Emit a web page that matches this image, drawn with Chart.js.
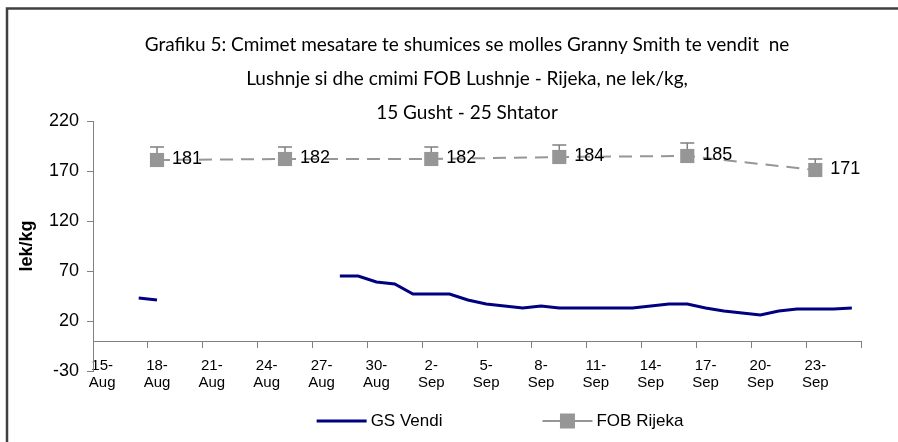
<!DOCTYPE html>
<html>
<head>
<meta charset="utf-8">
<script src="https://cdn.jsdelivr.net/npm/chart.js@4.4.0/dist/chart.umd.min.js"></script>
<style>
  html, body { margin: 0; padding: 0; background: #fff; }
  #wrap { width: 898px; height: 442px; position: relative; }
</style>
</head>
<body>
<div id="wrap"><canvas id="grafiku5"></canvas></div>
<script>
// ————————————————————————————
// DATA
// ————————————————————————————
const titleLines = [
  'Grafiku 5: Cmimet mesatare te shumices se molles Granny Smith te vendit  ne',
  'Lushnje si dhe cmimi FOB Lushnje - Rijeka, ne lek/kg,',
  '15 Gusht - 25 Shtator'
]

const dates = [
  '15-Aug','16-Aug','17-Aug','18-Aug','19-Aug','20-Aug','21-Aug','22-Aug','23-Aug',
  '24-Aug','25-Aug','26-Aug','27-Aug','28-Aug','29-Aug','30-Aug','31-Aug',
  '1-Sep','2-Sep','3-Sep','4-Sep','5-Sep','6-Sep','7-Sep','8-Sep','9-Sep','10-Sep',
  '11-Sep','12-Sep','13-Sep','14-Sep','15-Sep','16-Sep','17-Sep','18-Sep','19-Sep',
  '20-Sep','21-Sep','22-Sep','23-Sep','24-Sep','25-Sep'
]

// GS Vendi (lek/kg), one value per day, null = no quote
const gsVendi = [
  null, null, 43, 41, null, null, null, null, null, null, null, null, null,
  65, 65, 59, 57,
  47, 47, 47, 41, 37, 35, 33, 35, 33, 33, 33, 33, 33, 35, 37, 37,
  33, 30, 28, 26, 30, 32, 32, 32, 33
]

// FOB Rijeka (lek/kg), weekly quotes
const fobRijeka = [
  null, null, null, 181, null, null, null, null, null, null, 182, null, null,
  null, null, null, null,
  null, 182, null, null, null, null, null, null, 184, null, null, null, null, null, null, 185,
  null, null, null, null, null, null, 171, null, null
]

// plus-only error bars on FOB Rijeka
const fobErrPlus = [
  null, null, null, 13, null, null, null, null, null, null, 12, null, null,
  null, null, null, null,
  null, 12, null, null, null, null, null, null, 12, null, null, null, null, null, null, 13,
  null, null, null, null, null, null, 11, null, null
]

const yTicks = [-30, 20, 70, 120, 170, 220]

const FONT = '"Liberation Sans", Arial, sans-serif'
const NAVY = '#000080'
const GREY = '#969696'
const AXIS = '#808080'

// ————————————————————————————
// EXTRA DRAWING: frame, title, error bars, labels, legend
// ————————————————————————————
const decor = {
  id: 'decor',
  beforeDraw(chart) {
    const { ctx, width, height } = chart
    ctx.save()
    ctx.fillStyle = '#fff'
    ctx.fillRect(0, 0, width, height)
    ctx.strokeStyle = '#404040'
    ctx.lineWidth = 2.5
    ctx.beginPath()
    ctx.moveTo(7, height + 5)
    ctx.lineTo(7, 8.5)
    ctx.lineTo(width + 5, 8.5)
    ctx.stroke()
    ctx.restore()
  },
  beforeDatasetsDraw(chart) {
    const { ctx } = chart
    const y = chart.scales.y
    const meta = chart.getDatasetMeta(1)
    ctx.save()
    ctx.strokeStyle = AXIS
    ctx.lineWidth = 1.5
    fobRijeka.forEach((v, i) => {
      if (v == null) return
      const pt = meta.data[i]
      const top = y.getPixelForValue(v + fobErrPlus[i])
      ctx.beginPath()
      ctx.moveTo(pt.x, pt.y)
      ctx.lineTo(pt.x, top)
      ctx.moveTo(pt.x - 7, top)
      ctx.lineTo(pt.x + 7, top)
      ctx.stroke()
    })
    ctx.restore()
  },
  afterDatasetsDraw(chart) {
    const { ctx } = chart
    const meta = chart.getDatasetMeta(1)
    ctx.save()
    ctx.fillStyle = '#000'
    ctx.font = '18px ' + FONT
    ctx.textAlign = 'left'
    ctx.textBaseline = 'middle'
    fobRijeka.forEach((v, i) => {
      if (v == null) return
      const pt = meta.data[i]
      ctx.fillText(String(v), pt.x + 15, pt.y - 1)
    })
    ctx.restore()
  },
  afterDraw(chart) {
    const { ctx } = chart
    ctx.save()
    // title
    ctx.fillStyle = '#000'
    ctx.font = '19px Lato, "Open Sans", sans-serif'
    ctx.textAlign = 'center'
    ctx.textBaseline = 'middle'
    titleLines.forEach((t, i) => ctx.fillText(t, 467, 45 + i * 34))

    // legend
    ctx.font = '17px ' + FONT
    ctx.textAlign = 'left'
    const ds = chart.data.datasets
    const sample = 50, gapText = 4, gapItem = 100
    const widths = ds.map(d => ctx.measureText(d.label).width)
    const total = ds.length * (sample + gapText) + widths.reduce((a, b) => a + b, 0) + gapItem * (ds.length - 1)
    let x = 500 - total / 2
    const ly = 421
    ds.forEach((d, i) => {
      ctx.strokeStyle = d.borderColor
      ctx.lineWidth = d.borderWidth
      ctx.setLineDash([])
      ctx.beginPath()
      ctx.moveTo(x, ly)
      ctx.lineTo(x + sample, ly)
      ctx.stroke()
      if (d.pointStyle === 'rect') {
        ctx.fillStyle = d.pointBackgroundColor
        ctx.fillRect(x + sample / 2 - 7.5, ly - 7.5, 15, 15)
      }
      ctx.fillStyle = '#000'
      ctx.fillText(d.label, x + sample + gapText, ly)
      x += sample + gapText + widths[i] + gapItem
    })
    ctx.restore()
  }
}

// ————————————————————————————
// CHART
// ————————————————————————————
const tickEvery3 = c => (c.type !== 'tick' || c.index % 3 === 0) ? AXIS : 'rgba(0,0,0,0)'

new Chart(document.getElementById('grafiku5'), {
  type: 'line',
  data: {
    labels: dates,
    datasets: [
      {
        label: 'GS Vendi',
        data: gsVendi,
        borderColor: NAVY,
        borderWidth: 3,
        pointRadius: 0,
        spanGaps: false,
        tension: 0
      },
      {
        label: 'FOB Rijeka',
        data: fobRijeka,
        borderColor: GREY,
        borderWidth: 2,
        borderDash: [13, 8],
        pointStyle: 'rect',
        pointRadius: 10,
        pointBackgroundColor: GREY,
        pointBorderColor: GREY,
        pointBorderWidth: 0,
        spanGaps: true,
        tension: 0
      }
    ]
  },
  options: {
    responsive: true,
    maintainAspectRatio: false,
    animation: false,
    layout: { padding: { left: 0, right: 37, top: 121, bottom: 71 } },
    plugins: {
      legend: { display: false },
      title: { display: false },
      tooltip: { enabled: false }
    },
    scales: {
      x: {
        type: 'category',
        position: { y: 0 },
        offset: true,
        grid: { offset: true, drawOnChartArea: false, tickLength: 6, color: tickEvery3, tickColor: tickEvery3 },
        border: { color: AXIS, width: 1 },
        ticks: {
          autoSkip: false,
          maxRotation: 0,
          minRotation: 0,
          padding: 10,
          color: '#000',
          font: { family: FONT, size: 15, lineHeight: 1.15 },
          callback: (v, i) => {
            if (i % 3) return ''
            const [d, m] = dates[i].split('-')
            return [d + '-', m]
          }
        }
      },
      y: {
        min: -30,
        max: 220,
        afterBuildTicks: s => { s.ticks = yTicks.map(v => ({ value: v })) },
        afterFit: s => { s.width = 93 },
        grid: { drawOnChartArea: false, tickLength: 6, color: AXIS },
        border: { color: AXIS, width: 1 },
        ticks: { padding: 8, color: '#000', font: { family: FONT, size: 18 } },
        title: {
          display: true,
          text: 'lek/kg',
          color: '#000',
          font: { family: FONT, size: 18, weight: 'bold' },
          padding: { top: 16, bottom: 0 }
        }
      }
    }
  },
  plugins: [decor]
})
</script>
</body>
</html>
